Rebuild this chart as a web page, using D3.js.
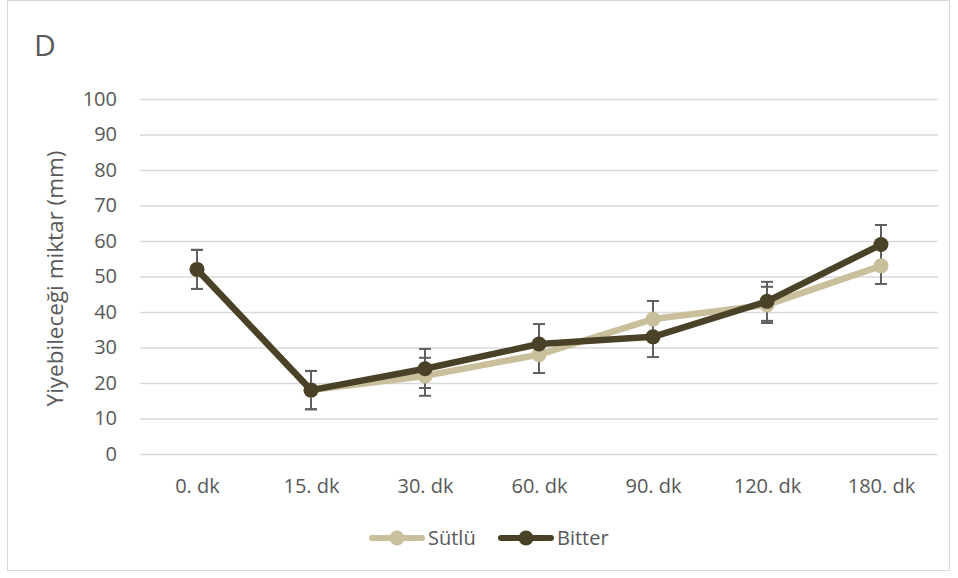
<!DOCTYPE html>
<html>
<head>
<meta charset="utf-8">
<script src="https://cdn.jsdelivr.net/npm/d3@7"></script>
<style>
  html, body { margin: 0; padding: 0; background: #fff; }
  svg { display: block; font-family: "Open Sans", sans-serif; }
</style>
</head>
<body>
<svg id="chart" width="958" height="578"></svg>
<script>
// Time points after consumption
const categories = ["0. dk", "15. dk", "30. dk", "60. dk", "90. dk", "120. dk", "180. dk"];
const yTicks = [0, 10, 20, 30, 40, 50, 60, 70, 80, 90, 100];

// Mean amount per time point (mm)
const sutlu = [52, 18, 22, 28, 38, 42, 53];
const bitter = [52, 18, 24, 31, 33, 43, 59];

// Error bar extents above / below each mean
const sutluErrUp = [5.5, 5.4, 5.1, 3.5, 5.1, 5.1, 5.1];
const sutluErrDown = [5.5, 5.4, 5.6, 5.2, 5.1, 5.1, 5.1];
const bitterErrUp = [5.5, 5.4, 5.6, 5.6, 5.7, 5.5, 5.5];
const bitterErrDown = [5.5, 5.4, 5.4, 3.5, 5.7, 5.5, 5.5];

const seriesNames = ["Sütlü", "Bitter"];
const seriesColors = ["#c9bf9b", "#4a4228"];

const series = [
  { name: seriesNames[0], color: seriesColors[0], values: sutlu, up: sutluErrUp, down: sutluErrDown },
  { name: seriesNames[1], color: seriesColors[1], values: bitter, up: bitterErrUp, down: bitterErrDown }
];

const svg = d3.select("#chart");
const textColor = "#595959";
const fontSize = 20;
const plot = { left: 140, right: 938, top: 99, bottom: 454 };

// Outer frame
svg.append("rect")
  .attr("x", 7.5).attr("y", 0.5)
  .attr("width", 942).attr("height", 570)
  .attr("fill", "#fff").attr("stroke", "#d9d9d9").attr("stroke-width", 1);

// Panel letter
svg.append("text")
  .attr("x", 34).attr("y", 56)
  .attr("font-size", 30).attr("fill", textColor)
  .text("D");

const x = d3.scalePoint().domain(categories).range([plot.left, plot.right]).padding(0.5);
const y = d3.scaleLinear().domain([0, 100]).range([plot.bottom, plot.top]);

// Y axis with gridlines
const yAxis = svg.append("g")
  .attr("transform", `translate(${plot.left},0)`)
  .call(d3.axisLeft(y).tickValues(yTicks).tickSize(-(plot.right - plot.left)).tickPadding(23));
yAxis.select(".domain").remove();
yAxis.selectAll(".tick line").attr("stroke", "#d9d9d9").attr("stroke-width", 1.5);
yAxis.selectAll(".tick text").attr("fill", textColor).attr("font-size", fontSize)
  .attr("font-family", "Open Sans, sans-serif");

// X axis labels
const xAxis = svg.append("g")
  .attr("transform", `translate(0,${plot.bottom})`)
  .call(d3.axisBottom(x).tickSize(0).tickPadding(25));
xAxis.select(".domain").remove();
xAxis.selectAll(".tick text").attr("fill", textColor).attr("font-size", fontSize)
  .attr("font-family", "Open Sans, sans-serif");

// Y axis title
svg.append("text")
  .attr("transform", `translate(63,${(plot.top + plot.bottom) / 2 + 2}) rotate(-90)`)
  .attr("text-anchor", "middle")
  .attr("font-size", 22.5).attr("fill", textColor)
  .text("Yiyebileceği miktar (mm)");

// Error bars (drawn beneath the lines)
const errG = svg.append("g");
const capHalf = 6;
series.forEach(s => {
  categories.forEach((c, i) => {
    const cx = x(c);
    const yTop = y(s.values[i] + s.up[i]);
    const yBot = y(s.values[i] - s.down[i]);
    errG.append("line").attr("x1", cx).attr("x2", cx).attr("y1", yTop).attr("y2", yBot)
      .attr("stroke", "#5f5f5f").attr("stroke-width", 2);
    [yTop, yBot].forEach(yy => {
      errG.append("line").attr("x1", cx - capHalf).attr("x2", cx + capHalf)
        .attr("y1", yy).attr("y2", yy)
        .attr("stroke", "#5f5f5f").attr("stroke-width", 2);
    });
  });
});

// Lines and markers
const line = d3.line().x((d, i) => x(categories[i])).y(d => y(d));
series.forEach(s => {
  svg.append("path")
    .datum(s.values)
    .attr("d", line)
    .attr("fill", "none")
    .attr("stroke", s.color)
    .attr("stroke-width", 6.5)
    .attr("stroke-linejoin", "round")
    .attr("stroke-linecap", "round");
  svg.append("g").selectAll("circle")
    .data(s.values)
    .join("circle")
    .attr("cx", (d, i) => x(categories[i]))
    .attr("cy", d => y(d))
    .attr("r", 7.5)
    .attr("fill", s.color);
});

// Legend
const legendItems = [
  { name: seriesNames[0], color: seriesColors[0], x0: 369 },
  { name: seriesNames[1], color: seriesColors[1], x0: 498 }
];
const legendY = 538;
legendItems.forEach(it => {
  const g = svg.append("g");
  g.append("line").attr("x1", it.x0 + 3).attr("x2", it.x0 + 53)
    .attr("y1", legendY).attr("y2", legendY)
    .attr("stroke", it.color).attr("stroke-width", 6).attr("stroke-linecap", "round");
  g.append("circle").attr("cx", it.x0 + 28).attr("cy", legendY).attr("r", 7.5).attr("fill", it.color);
  g.append("text").attr("x", it.x0 + 59).attr("y", legendY + 7)
    .attr("font-size", fontSize).attr("fill", textColor).text(it.name);
});
</script>
</body>
</html>
